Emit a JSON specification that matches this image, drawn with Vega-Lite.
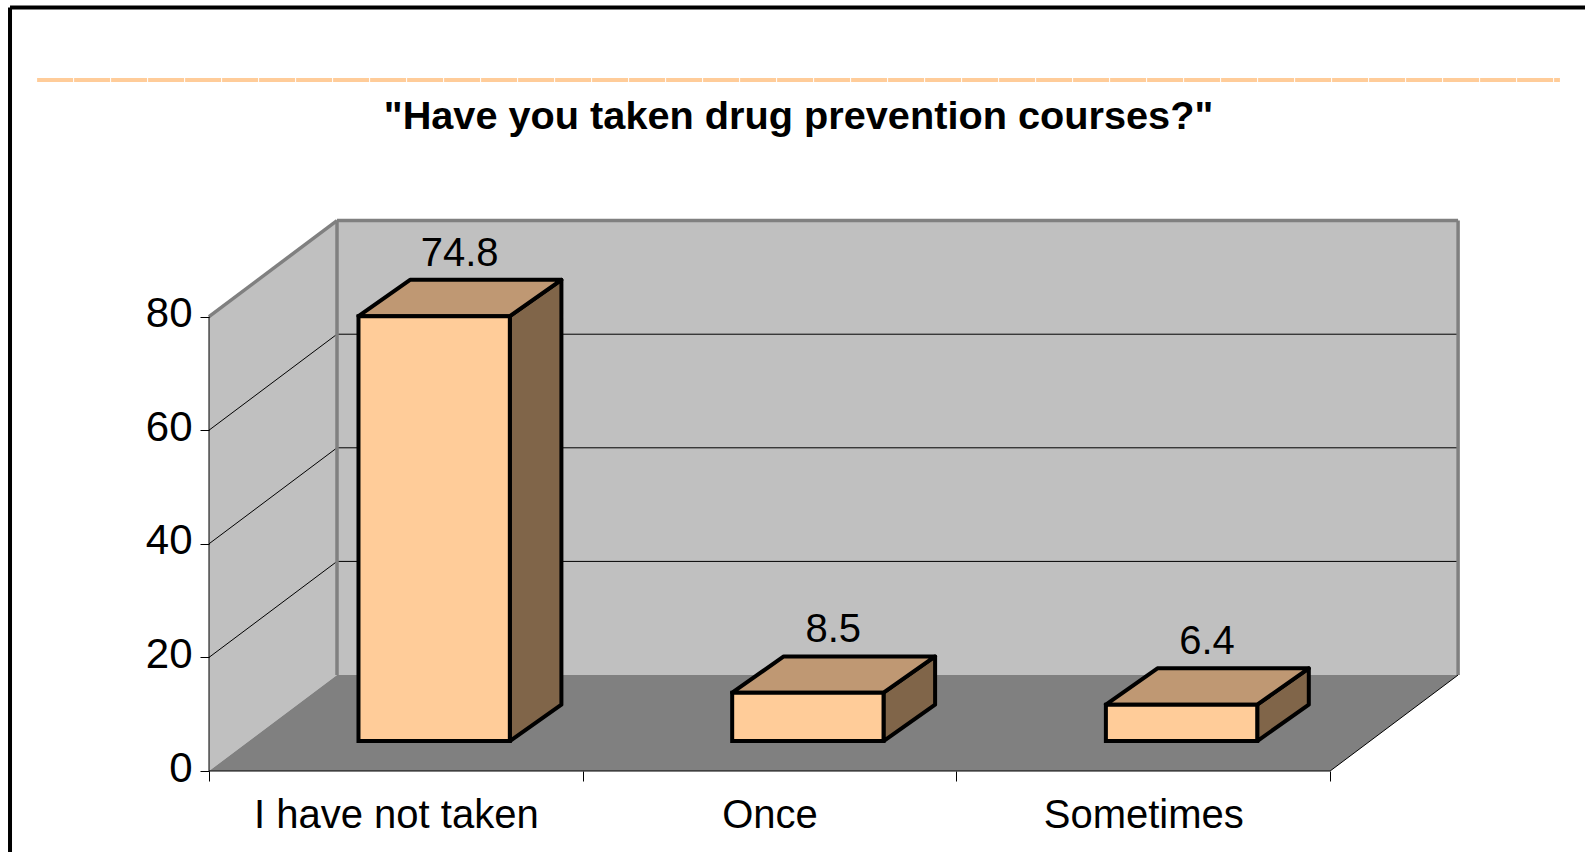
{
"$schema":"https://vega.github.io/schema/vega-lite/v6.json",
"width":1585,"height":852,"padding":0,"autosize":"none","background":"white",
"config":{"view":{"stroke":null},"font":"Liberation Sans"},
"title":{"text":"\"Have you taken drug prevention courses?\"","frame":"group","anchor":"middle","orient":"top","offset":-169,"dx":6,"baseline":"alphabetic","font":"Liberation Sans","fontSize":39.7,"fontWeight":"bold","color":"black"},
"data":{"values":[{}]},
"datasets":{
"bars":[{"category":"I have not taken","slot":0,"value":74.8},{"category":"Once","slot":1,"value":8.5},{"category":"Sometimes","slot":2,"value":6.4}],
"depth":[{"k":0},{"k":1}],
"ticks":[{"tick":20},{"tick":40},{"tick":60}]
},
"layer":[
{"data":{"name":"depth"},"transform":[{"calculate":"datum.k*0.3425","as":"xa"},{"calculate":"datum.k*16.9","as":"ya"},{"calculate":"datum.ya+80","as":"yb"}],
 "mark":{"type":"area","fill":"#C0C0C0"},
 "encoding":{"x":{"field":"xa","type":"quantitative","title":null,"scale":{"domain":[-0.5593,3.6821],"nice":false,"zero":false},
   "axis":{"orient":"bottom","offset":-81,"values":[0,0.5,1,1.5,2,2.5,3],"labelExpr":"datum.value==0.5?'I have not taken':datum.value==1.5?'Once':datum.value==2.5?'Sometimes':''","domain":false,"grid":false,"tickColor":"black","tickSize":10,"tickWidth":1,"tickOpacity":{"condition":{"test":"datum.value % 1 != 0","value":0},"value":1},"labelFontSize":40,"labelColor":"black","labelFont":"Liberation Sans","labelPadding":14,"labelLimit":0,"labelBound":false,"labelFlush":false,"labelOverlap":false,"labelAngle":0,"zindex":1}},
  "y":{"field":"ya","type":"quantitative","title":null,"scale":{"domain":[-14.26,135.74],"nice":false,"zero":false},
   "axis":{"orient":"left","offset":-209,"values":[0,20,40,60,80],"domain":false,"grid":false,"tickColor":"black","tickSize":9,"tickWidth":1,"labelFontSize":42,"labelColor":"black","labelFont":"Liberation Sans","labelPadding":8,"labelOffset":-3,"labelBound":false,"labelFlush":false,"labelOverlap":false,"zindex":1}},
  "y2":{"field":"yb"}}},
{"mark":{"type":"rect","fill":"#C0C0C0"},
 "encoding":{"x":{"datum":0.3425,"type":"quantitative","title":null},"x2":{"datum":3.3425},"y":{"datum":16.9,"type":"quantitative","title":null},"y2":{"datum":96.9}}},
{"data":{"name":"depth"},"transform":[{"calculate":"datum.k*0.3425","as":"xa"},{"calculate":"datum.xa+3","as":"xb"},{"calculate":"datum.k*16.9","as":"ya"}],
 "mark":{"type":"area","orient":"horizontal","fill":"#808080"},
 "encoding":{"y":{"field":"ya","type":"quantitative","title":null},"x":{"field":"xa","type":"quantitative","title":null},"x2":{"field":"xb"}}},
{"data":{"name":"ticks"},"transform":[{"calculate":"datum.tick+16.9","as":"yb"}],
 "mark":{"type":"rule","color":"black","strokeWidth":1},
 "encoding":{"x":{"datum":0,"type":"quantitative","title":null},"x2":{"datum":0.3425},"y":{"field":"tick","type":"quantitative","title":null},"y2":{"field":"yb"}}},
{"data":{"name":"ticks"},"transform":[{"calculate":"datum.tick+16.9","as":"yb"}],
 "mark":{"type":"rule","color":"black","strokeWidth":1},
 "encoding":{"x":{"datum":0.3425,"type":"quantitative","title":null},"x2":{"datum":3.3425},"y":{"field":"yb","type":"quantitative","title":null}}},
{"mark":{"type":"rule","color":"#808080","strokeWidth":3.5},"encoding":{"x":{"datum":0,"type":"quantitative","title":null},"x2":{"datum":0.3425},"y":{"datum":80,"type":"quantitative","title":null},"y2":{"datum":96.9}}},
{"mark":{"type":"rule","color":"#808080","strokeWidth":3.5},"encoding":{"x":{"datum":0.3425,"type":"quantitative","title":null},"y":{"datum":16.9,"type":"quantitative","title":null},"y2":{"datum":96.9}}},
{"mark":{"type":"rule","color":"#808080","strokeWidth":3.5},"encoding":{"x":{"datum":3.3425,"type":"quantitative","title":null},"y":{"datum":16.9,"type":"quantitative","title":null},"y2":{"datum":96.9}}},
{"mark":{"type":"rule","color":"#808080","strokeWidth":3.5},"encoding":{"x":{"datum":0.3425,"type":"quantitative","title":null},"x2":{"datum":3.3425},"y":{"datum":96.9,"type":"quantitative","title":null}}},
{"mark":{"type":"rule","color":"black","strokeWidth":1},"encoding":{"x":{"datum":0,"type":"quantitative","title":null},"y":{"datum":0,"type":"quantitative","title":null},"y2":{"datum":80}}},
{"mark":{"type":"rule","color":"black","strokeWidth":1},"encoding":{"x":{"datum":0,"type":"quantitative","title":null},"x2":{"datum":3},"y":{"datum":0,"type":"quantitative","title":null}}},
{"mark":{"type":"rule","color":"black","strokeWidth":1},"encoding":{"x":{"datum":3,"type":"quantitative","title":null},"x2":{"datum":3.3425},"y":{"datum":0,"type":"quantitative","title":null},"y2":{"datum":16.9}}},
{"data":{"name":"bars"},
 "transform":[{"calculate":"[0,1]","as":"k"},{"flatten":["k"]},
  {"calculate":"datum.slot+0.805+datum.k*0.138","as":"xs"},
  {"calculate":"5.28+datum.k*6.4","as":"ys0"},
  {"calculate":"datum.ys0+datum.value","as":"ys1"}],
 "mark":{"type":"area","fill":"#806549","stroke":"black","strokeWidth":4,"strokeJoin":"round"},
 "encoding":{"x":{"field":"xs","type":"quantitative","title":null},"y":{"field":"ys0","type":"quantitative","title":null},"y2":{"field":"ys1"},"detail":{"field":"category"}}},
{"data":{"name":"bars"},
 "transform":[{"calculate":"[0,1]","as":"k"},{"flatten":["k"]},
  {"calculate":"datum.slot+0.4+datum.k*0.138","as":"xt0"},
  {"calculate":"datum.slot+0.805+datum.k*0.138","as":"xt1"},
  {"calculate":"5.28+datum.value+datum.k*6.4","as":"yt"}],
 "mark":{"type":"area","orient":"horizontal","fill":"#BF9873","stroke":"black","strokeWidth":4,"strokeJoin":"round"},
 "encoding":{"y":{"field":"yt","type":"quantitative","title":null},"x":{"field":"xt0","type":"quantitative","title":null},"x2":{"field":"xt1"},"detail":{"field":"category"}}},
{"data":{"name":"bars"},
 "transform":[{"calculate":"datum.slot+0.4","as":"x0"},{"calculate":"datum.slot+0.805","as":"x1"},{"calculate":"5.28+datum.value","as":"y1"},{"calculate":"5.28","as":"y0"}],
 "mark":{"type":"rect","fill":"#FFCC99","stroke":"black","strokeWidth":4},
 "encoding":{"x":{"field":"x0","type":"quantitative","title":null},"x2":{"field":"x1"},"y":{"field":"y0","type":"quantitative","title":null},"y2":{"field":"y1"}}},
{"data":{"name":"bars"},
 "transform":[{"calculate":"datum.slot+0.6705","as":"xc"},{"calculate":"5.28+datum.value+6.4","as":"yc"}],
 "mark":{"type":"text","font":"Liberation Sans","fontSize":40,"color":"black","baseline":"alphabetic","align":"center","dy":-14},
 "encoding":{"x":{"field":"xc","type":"quantitative","title":null},"y":{"field":"yc","type":"quantitative","title":null},"text":{"field":"value","type":"quantitative","format":".1f"}}},
{"mark":{"type":"rule","color":"#FFCC99","strokeWidth":4,"strokeDash":[36,1]},"encoding":{"x":{"datum":-0.46,"type":"quantitative","title":null},"x2":{"datum":3.615},"y":{"datum":121.65,"type":"quantitative","title":null}}},
{"mark":{"type":"rule","color":"black","strokeWidth":4},"encoding":{"x":{"datum":-0.5325,"type":"quantitative","title":null},"x2":{"datum":3.6821},"y":{"datum":134.42,"type":"quantitative","title":null}}},
{"mark":{"type":"rule","color":"black","strokeWidth":4},"encoding":{"x":{"datum":-0.5325,"type":"quantitative","title":null},"y":{"datum":134.42,"type":"quantitative","title":null},"y2":{"datum":-14.26}}}
]
}
